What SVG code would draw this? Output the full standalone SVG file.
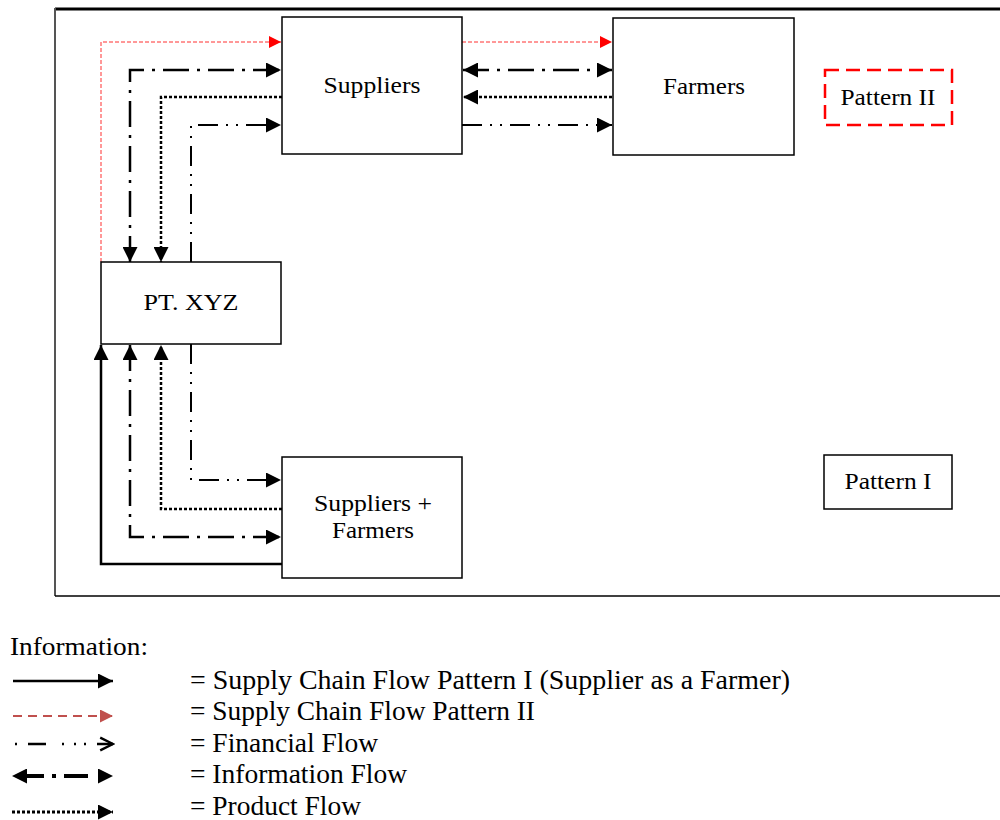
<svg xmlns="http://www.w3.org/2000/svg" width="1000" height="820" viewBox="0 0 1000 820">
<defs>
<style>
.box{fill:#fff;stroke:#000;stroke-width:1.5}
.t{font-family:"Liberation Serif","Times New Roman",serif;fill:#000}
.lbl{font-size:23px;text-anchor:middle}
.leg{font-size:27px}
.info{fill:none;stroke:#000;stroke-width:2.5;stroke-dasharray:26 8 3 8}
.fin{fill:none;stroke:#000;stroke-width:2;stroke-dasharray:20 8 2 8 2 8}
.prod{fill:none;stroke:#000;stroke-width:2.5;stroke-dasharray:3 2}
.p1{fill:none;stroke:#000;stroke-width:2.5}
.p2{fill:none;stroke:#ff3030;stroke-width:1;stroke-dasharray:4 2}
</style>
<marker id="ah" viewBox="0 0 10 10" refX="10" refY="5" markerWidth="20" markerHeight="15" markerUnits="userSpaceOnUse" orient="auto-start-reverse">
<path d="M0,0 L10,5 L0,10 Z" fill="#000"/>
</marker>
<marker id="ahr" viewBox="0 0 10 10" refX="10" refY="5" markerWidth="17" markerHeight="12" markerUnits="userSpaceOnUse" orient="auto">
<path d="M0,0 L10,5 L0,10 Z" fill="#ff0000"/>
</marker>
<marker id="ahl" viewBox="0 0 10 10" refX="10" refY="5" markerWidth="15" markerHeight="13" markerUnits="userSpaceOnUse" orient="auto">
<path d="M0,0 L10,5 L0,10 Z" fill="#c0504d"/>
</marker>
<marker id="aho" viewBox="0 0 10 10" refX="9" refY="5" markerWidth="16" markerHeight="16" markerUnits="userSpaceOnUse" orient="auto">
<path d="M1,1 L9,5 L1,9" fill="none" stroke="#000" stroke-width="1.5"/>
</marker>
</defs>
<rect width="1000" height="820" fill="#fff"/>

<g id="frame">
<line x1="55" y1="9" x2="1000" y2="9" stroke="#000" stroke-width="3"/>
<line x1="55" y1="8" x2="55" y2="596" stroke="#555" stroke-width="2"/>
<line x1="55" y1="596" x2="1000" y2="596" stroke="#000" stroke-width="1.5"/>
</g>

<g id="connectors">
<path class="p2" d="M101,262 V42 H281" marker-end="url(#ahr)"/>
<path class="p2" d="M462,42 H612" marker-end="url(#ahr)"/>
<path class="info" d="M130,262 V70 H281" marker-start="url(#ah)" marker-end="url(#ah)"/>
<path class="prod" d="M282,97 H161 V262" marker-end="url(#ah)"/>
<path class="fin" d="M191,262 V125 H281" marker-end="url(#ah)"/>
<path class="info" d="M463,70 H612" marker-start="url(#ah)" marker-end="url(#ah)"/>
<path class="prod" d="M612,97 H463" marker-end="url(#ah)"/>
<path class="fin" d="M462,125 H612" marker-end="url(#ah)"/>
<path class="p1" d="M282,564 H101 V345" marker-end="url(#ah)"/>
<path class="info" d="M130,345 V537 H281" marker-start="url(#ah)" marker-end="url(#ah)"/>
<path class="prod" d="M282,509 H161 V345" marker-end="url(#ah)"/>
<path class="fin" d="M191,344 V480 H281" marker-end="url(#ah)"/>
</g>

<g id="suppliers">
<rect class="box" x="282" y="17" width="180" height="137"/>
<text class="t lbl" x="372" y="93" textLength="97" lengthAdjust="spacingAndGlyphs">Suppliers</text>
</g>
<g id="farmers">
<rect class="box" x="613" y="18" width="181" height="137"/>
<text class="t lbl" x="704" y="94" textLength="82" lengthAdjust="spacingAndGlyphs">Farmers</text>
</g>
<g id="ptxyz">
<rect class="box" x="101" y="262" width="180" height="82"/>
<text class="t lbl" x="191" y="310" textLength="95" lengthAdjust="spacingAndGlyphs">PT. XYZ</text>
</g>
<g id="suppliers-farmers">
<rect class="box" x="282" y="457" width="180" height="121"/>
<text class="t lbl" x="373" y="511" textLength="118" lengthAdjust="spacingAndGlyphs">Suppliers +</text>
<text class="t lbl" x="373" y="538" textLength="82" lengthAdjust="spacingAndGlyphs">Farmers</text>
</g>
<g id="pattern2">
<rect x="825" y="70" width="127" height="55" fill="#fff" stroke="#ff0000" stroke-width="2.5" stroke-dasharray="14 7"/>
<text class="t lbl" x="888" y="105" textLength="95" lengthAdjust="spacingAndGlyphs">Pattern II</text>
</g>
<g id="pattern1">
<rect class="box" x="824" y="455" width="128" height="54"/>
<text class="t lbl" x="888" y="489" textLength="87" lengthAdjust="spacingAndGlyphs">Pattern I</text>
</g>

<g id="legend">
<text class="t" x="10" y="655" font-size="25" textLength="138" lengthAdjust="spacingAndGlyphs">Information:</text>
<line x1="13" y1="681" x2="113" y2="681" stroke="#000" stroke-width="2.5" marker-end="url(#ah)"/>
<line x1="13" y1="716" x2="113" y2="716" stroke="#c0504d" stroke-width="2" stroke-dasharray="9 6" marker-end="url(#ahl)"/>
<line x1="15" y1="744" x2="113" y2="744" stroke="#000" stroke-width="2.5" stroke-dasharray="2 11 18 16 2 10 2 8" marker-end="url(#aho)"/>
<line x1="12" y1="776" x2="113" y2="776" stroke="#000" stroke-width="4" stroke-dasharray="0 8 24 8 4 8 24 30" marker-start="url(#ah)" marker-end="url(#ah)"/>
<line x1="12" y1="812" x2="113" y2="812" stroke="#000" stroke-width="3" stroke-dasharray="3 2" marker-end="url(#ah)"/>
<text class="t leg" x="190" y="689" textLength="600" lengthAdjust="spacingAndGlyphs">= Supply Chain Flow Pattern  I (Supplier as a Farmer)</text>
<text class="t leg" x="190" y="720" textLength="345" lengthAdjust="spacingAndGlyphs">= Supply Chain Flow Pattern II</text>
<text class="t leg" x="190" y="752" textLength="188" lengthAdjust="spacingAndGlyphs">= Financial Flow</text>
<text class="t leg" x="190" y="783" textLength="217" lengthAdjust="spacingAndGlyphs">= Information Flow</text>
<text class="t leg" x="190" y="815" textLength="171" lengthAdjust="spacingAndGlyphs">= Product Flow</text>
</g>
</svg>
